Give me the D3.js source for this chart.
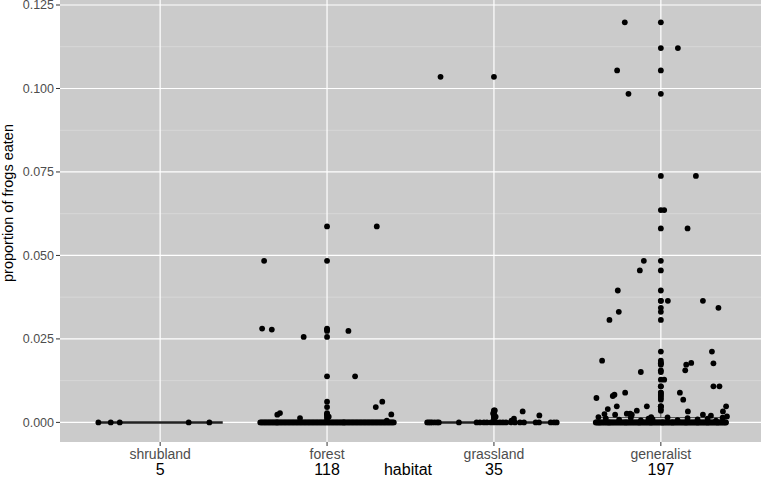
<!DOCTYPE html>
<html>
<head>
<meta charset="utf-8">
<script src="https://cdn.jsdelivr.net/npm/d3@7"></script>
<style>
  body { margin: 0; background: #fff; }
  svg { display: block; font-family: "Liberation Sans", Arial, Helvetica, sans-serif; }
</style>
</head>
<body>
<svg id="chart" width="761" height="477"></svg>
<script>
var habitats = ['shrubland', 'forest', 'grassland', 'generalist'];
var counts = [5, 118, 35, 197];
var yTicks = [0, 0.025, 0.05, 0.075, 0.1, 0.125];
var yMinorTicks = [0.0125, 0.0375, 0.0625, 0.0875, 0.1125];

// non-zero observations: [proportion eaten, jitter offset in category widths]
var shrublandPoints = [];
var forestPoints = [
  [0.0587, 0.298], [0.0484, -0.377], [0.0281, -0.389], [0.0278, -0.331],
  [0.0274, 0.128], [0.0256, -0.14], [0.0138, 0.168], [0.0062, 0.331],
  [0.0046, 0.292], [0.0028, -0.282], [0.0023, -0.298], [0.0013, -0.162],
  [0.0024, 0.385], [0.0005, 0.358], [0.0017, 0.01]
];
var grasslandPoints = [
  [0.1035, -0.32], [0.0036, 0.005], [0.0033, 0.172], [0.0027, -0.005],
  [0.0021, 0.272], [0.0017, 0.01], [0.0011, 0.12], [0.0005, 0.105]
];
var generalistPoints = [
  [0.1198, -0.216], [0.1121, 0.102], [0.1054, -0.262], [0.0984, -0.194],
  [0.0738, 0.21], [0.0636, 0.02], [0.0581, 0.16], [0.0484, -0.102],
  [0.0455, -0.126], [0.0395, -0.258], [0.0364, 0.042], [0.0364, 0.252],
  [0.0343, 0.345], [0.0331, -0.252], [0.0307, -0.308], [0.0212, 0.306],
  [0.0185, -0.352], [0.0177, 0.315], [0.0178, 0.182], [0.0173, 0.152],
  [0.0156, 0.146], [0.0151, -0.12], [0.0128, 0.02], [0.0108, 0.315],
  [0.0108, 0.351], [0.0089, -0.214], [0.0089, 0.114], [0.0073, -0.386],
  [0.0068, 0.134], [0.0079, -0.288], [0.0083, -0.278], [0.0048, -0.264],
  [0.0048, -0.084], [0.0048, 0.391], [0.0040, -0.318], [0.0033, 0.162],
  [0.0035, -0.144], [0.0033, 0.372], [0.0025, -0.338], [0.0016, -0.374],
  [0.0023, -0.274], [0.0026, -0.204], [0.0026, -0.184], [0.0023, -0.174],
  [0.0016, -0.058], [0.0011, -0.074], [0.0023, 0.252], [0.0020, 0.3],
  [0.0018, 0.396],
  [0.0012, -0.33], [0.0008, -0.25], [0.0014, -0.18], [0.0006, -0.12],
  [0.0010, -0.05], [0.0015, 0.04], [0.0007, 0.1], [0.0013, 0.16],
  [0.0009, 0.22], [0.0011, 0.28], [0.0005, 0.33], [0.0014, 0.37]
];

// jitter offsets of the observations at exactly zero
var shrublandZeros = [-0.37, -0.296, -0.242, 0.171, 0.295];
var forestZeros = [
  -0.4, -0.392, -0.384, -0.376, -0.368, -0.36, -0.352, -0.344, -0.336, -0.328,
  -0.32, -0.312, -0.304, -0.3, -0.296, -0.288, -0.28, -0.272, -0.264, -0.256, -0.248,
  -0.24, -0.232, -0.224, -0.216, -0.208, -0.2, -0.192, -0.184, -0.176, -0.168,
  -0.16, -0.152, -0.144, -0.136, -0.128, -0.12, -0.112, -0.104, -0.096, -0.088,
  -0.08, -0.072, -0.064, -0.056, -0.048, -0.04, -0.032, -0.024, -0.016, -0.008,
  0, 0.008, 0.016, 0.024, 0.032, 0.04, 0.048, 0.056, 0.064, 0.072,
  0.08, 0.088, 0.096, 0.1, 0.104, 0.112, 0.12, 0.128, 0.136, 0.144, 0.152,
  0.16, 0.168, 0.176, 0.184, 0.192, 0.2, 0.208, 0.216, 0.224, 0.232,
  0.24, 0.248, 0.256, 0.264, 0.272, 0.28, 0.288, 0.296, 0.304, 0.312,
  0.32, 0.328, 0.336, 0.344, 0.352, 0.36, 0.368, 0.376, 0.384, 0.392, 0.4
];
var grasslandZeros = [
  -0.4, -0.39, -0.38, -0.37, -0.355, -0.34, -0.33, -0.21, -0.104, -0.084,
  -0.06, -0.042, -0.018, 0, 0.018, 0.036, 0.054, 0.072, 0.1, 0.126,
  0.156, 0.18, 0.25, 0.27, 0.34, 0.36, 0.376
];
var generalistZeros = [
  -0.39, -0.385, -0.38, -0.372, -0.37, -0.366, -0.36, -0.353, -0.347, -0.34, -0.334,
  -0.327, -0.321, -0.315, -0.31, -0.309, -0.302, -0.296, -0.29, -0.283, -0.277, -0.27,
  -0.264, -0.258, -0.251, -0.245, -0.239, -0.233, -0.226, -0.22, -0.214, -0.21, -0.207,
  -0.2, -0.195, -0.188, -0.182, -0.176, -0.169, -0.163, -0.157, -0.15, -0.144,
  -0.138, -0.131, -0.13, -0.125, -0.119, -0.112, -0.106, -0.1, -0.093, -0.087, -0.081,
  -0.074, -0.068, -0.062, -0.06, -0.055, -0.049, -0.043, -0.036, -0.03, -0.024, -0.017,
  -0.011, -0.005, 0.002, 0.008, 0.01, 0.014, 0.021, 0.027, 0.033, 0.04, 0.046,
  0.052, 0.059, 0.065, 0.07, 0.071, 0.078, 0.084, 0.09, 0.097, 0.103, 0.109,
  0.116, 0.122, 0.128, 0.135, 0.141, 0.147, 0.15, 0.154, 0.16, 0.166, 0.173,
  0.179, 0.185, 0.192, 0.198, 0.204, 0.211, 0.217, 0.22, 0.223, 0.23, 0.236,
  0.242, 0.249, 0.255, 0.261, 0.268, 0.274, 0.28, 0.28, 0.287, 0.293, 0.299,
  0.306, 0.312, 0.318, 0.325, 0.331, 0.337, 0.34, 0.344, 0.35, 0.356, 0.363,
  0.369, 0.375, 0.382, 0.388, 0.39
];

var nonZero = [shrublandPoints, forestPoints, grasslandPoints, generalistPoints];
var zeros = [shrublandZeros, forestZeros, grasslandZeros, generalistZeros];

var obs = [];
habitats.forEach(function(h, i) {
  nonZero[i].forEach(function(p) { obs.push({habitat: h, value: p[0], jitter: p[1]}); });
  zeros[i].forEach(function(j) { obs.push({habitat: h, value: 0, jitter: j}); });
});

var panelLeft = 60, panelRight = 761, panelTop = 0, panelBottom = 442;
var svg = d3.select('#chart');

var x = d3.scalePoint().domain(habitats).range([panelLeft, panelRight]).padding(0.6);
var step = x.step();
var y = d3.scaleLinear().domain([-0.00587, 0.1265]).range([panelBottom, panelTop]);

// panel
svg.append('rect')
  .attr('x', panelLeft).attr('y', panelTop)
  .attr('width', panelRight - panelLeft).attr('height', panelBottom - panelTop)
  .style('fill', '#cbcbcb');

svg.selectAll('.minor').data(yMinorTicks)
  .enter().append('line')
  .attr('x1', panelLeft).attr('x2', panelRight)
  .attr('y1', function(d) { return y(d); })
  .attr('y2', function(d) { return y(d); })
  .style('stroke', '#dadada')
  .style('stroke-width', 0.8);

svg.selectAll('.major').data(yTicks)
  .enter().append('line')
  .attr('x1', panelLeft).attr('x2', panelRight)
  .attr('y1', function(d) { return y(d); })
  .attr('y2', function(d) { return y(d); })
  .style('stroke', '#fff')
  .style('stroke-width', 1.2);

svg.selectAll('.vgrid').data(habitats)
  .enter().append('line')
  .attr('x1', function(d) { return x(d); })
  .attr('x2', function(d) { return x(d); })
  .attr('y1', panelTop).attr('y2', panelBottom)
  .style('stroke', '#fff')
  .style('stroke-width', 1.2);

// boxplots
var half = step * 0.75 / 2;
var r = 2.9;
habitats.forEach(function(h) {
  var vals = obs.filter(function(d) { return d.habitat === h; })
    .map(function(d) { return d.value; }).sort(d3.ascending);
  var q1 = d3.quantile(vals, 0.25), med = d3.quantile(vals, 0.5), q3 = d3.quantile(vals, 0.75);
  var iqr = q3 - q1;
  var hi = d3.max(vals.filter(function(v) { return v <= q3 + 1.5 * iqr; }));
  var lo = d3.min(vals.filter(function(v) { return v >= q1 - 1.5 * iqr; }));
  var cx = x(h);
  var g = svg.append('g');
  g.append('line').attr('x1', cx).attr('x2', cx).attr('y1', y(q3)).attr('y2', y(hi))
    .style('stroke', '#333').style('stroke-width', 1);
  g.append('line').attr('x1', cx).attr('x2', cx).attr('y1', y(q1)).attr('y2', y(lo))
    .style('stroke', '#333').style('stroke-width', 1);
  g.append('rect')
    .attr('x', cx - half).attr('width', 2 * half)
    .attr('y', y(q3)).attr('height', Math.max(0, y(q1) - y(q3)))
    .style('fill', '#fff').style('stroke', '#333').style('stroke-width', 1);
  g.append('line').attr('x1', cx - half).attr('x2', cx + half)
    .attr('y1', y(med)).attr('y2', y(med))
    .style('stroke', '#222').style('stroke-width', 2.5);
  var outliers = vals.filter(function(v) { return v > hi || v < lo; });
  g.selectAll('circle').data(outliers)
    .enter().append('circle')
    .attr('cx', cx)
    .attr('cy', function(d) { return y(d); })
    .attr('r', r)
    .style('fill', '#000');
});

// jittered observations
svg.append('g').selectAll('circle').data(obs)
  .enter().append('circle')
  .attr('cx', function(d) { return x(d.habitat) + d.jitter * step; })
  .attr('cy', function(d) { return y(d.value); })
  .attr('r', r)
  .style('fill', '#000');

// y axis
svg.selectAll('.ytick').data(yTicks)
  .enter().append('line')
  .attr('x1', panelLeft - 4).attr('x2', panelLeft)
  .attr('y1', function(d) { return y(d); })
  .attr('y2', function(d) { return y(d); })
  .style('stroke', '#333');

svg.selectAll('.ylab').data(yTicks)
  .enter().append('text')
  .attr('x', panelLeft - 6)
  .attr('y', function(d) { return y(d); })
  .attr('dy', '0.35em')
  .attr('text-anchor', 'end')
  .style('font-size', '12.5px')
  .style('fill', '#4d4d4d')
  .text(d3.format('.3f'));

svg.append('text')
  .attr('transform', 'translate(13,203) rotate(-90)')
  .attr('text-anchor', 'middle')
  .style('font-size', '14.5px')
  .style('fill', '#000')
  .text('proportion of frogs eaten');

// x axis
svg.selectAll('.xtick').data(habitats)
  .enter().append('line')
  .attr('x1', function(d) { return x(d); })
  .attr('x2', function(d) { return x(d); })
  .attr('y1', panelBottom).attr('y2', panelBottom + 4)
  .style('stroke', '#333');

svg.selectAll('.xlab').data(habitats)
  .enter().append('text')
  .attr('x', function(d) { return x(d); })
  .attr('y', 459)
  .attr('text-anchor', 'middle')
  .style('font-size', '14px')
  .style('fill', '#4d4d4d')
  .text(function(d) { return d; });

svg.selectAll('.xcount').data(habitats)
  .enter().append('text')
  .attr('x', function(d) { return x(d); })
  .attr('y', 475)
  .attr('text-anchor', 'middle')
  .style('font-size', '16px')
  .style('fill', '#000')
  .text(function(d, i) { return counts[i]; });

svg.append('text')
  .attr('x', 408).attr('y', 475)
  .attr('text-anchor', 'middle')
  .style('font-size', '16px')
  .style('fill', '#000')
  .text('habitat');
</script>
</body>
</html>
